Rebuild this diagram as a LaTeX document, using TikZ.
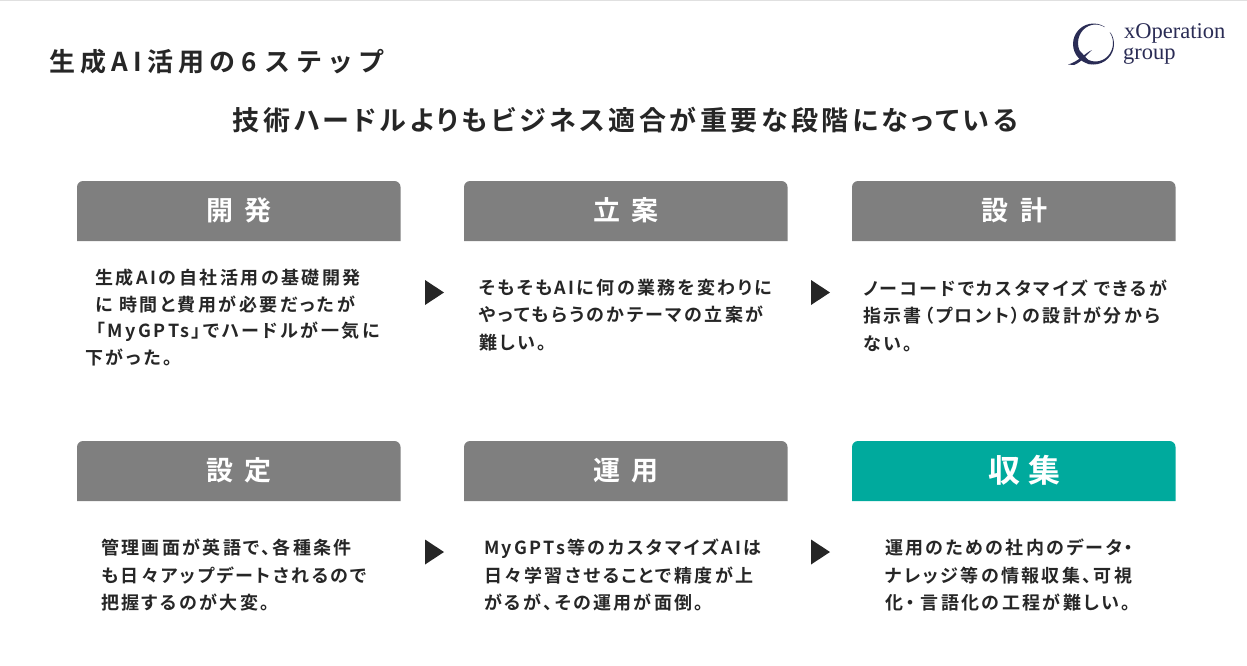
\documentclass[tikz,border=0pt]{standalone}
\usepackage{fontspec}
\usepackage{tikz}
\usetikzlibrary{calc}

\newfontfamily\jpbody[LetterSpace=13,RawFeature=+palt,BoldFont={Noto Sans CJK JP Bold}]{Noto Sans CJK JP}
\newfontfamily\jpwide[LetterSpace=14,RawFeature=+palt,BoldFont={Noto Sans CJK JP Bold}]{Noto Sans CJK JP}
\newfontfamily\jptitle[LetterSpace=13,RawFeature=+palt,BoldFont={Noto Sans CJK JP Bold}]{Noto Sans CJK JP}
\newfontfamily\jpheading[LetterSpace=20,BoldFont={Noto Sans CJK JP Bold}]{Noto Sans CJK JP}
\newfontfamily\logofont{Liberation Serif}

\definecolor{headgray}{HTML}{7F7F7F}
\definecolor{headteal}{HTML}{00AA9D}
\definecolor{inktext}{HTML}{262626}
\definecolor{logonavy}{HTML}{2A2C55}

\tikzset{
    headlabel/.style={text=white, inner sep=0pt,
        font=\jptitle\bfseries\fontsize{27}{30}\selectfont},
    bodytext/.style={anchor=west, align=left, inner sep=0pt, text=inktext,
        font=\jpbody\bfseries\fontsize{18}{27.5}\selectfont},
    titletext/.style={text=inktext, inner sep=0pt,
        font=\jptitle\bfseries\fontsize{27}{30}\selectfont},
    logotext/.style={anchor=base west, inner sep=0pt, text=logonavy,
        font=\logofont\fontsize{22.5}{24}\selectfont},
}

\begin{document}
\begin{tikzpicture}[x=1pt, y=-1pt]
    \useasboundingbox (0,0) rectangle (1247,665);
    \fill[black!12] (0,0) rectangle (1247,1);

    \node[titletext, anchor=west, font=\jpheading\bfseries\fontsize{26}{30}\selectfont] (heading) at (49,62) {生成AI活用の\hspace{6pt}6\hspace{8pt}ステップ};
    \node[titletext] (subheading) at (625.5,120) {技術ハードルよりもビジネス適合が重要な段階になっている};

    % header bars
    \foreach \n/\x/\y/\c/\t in {
        dev/77/181/headgray/{開\hspace{12pt}発},
        plan/464/181/headgray/{立\hspace{12pt}案},
        design/852/181/headgray/{設\hspace{12pt}計},
        setup/77/441/headgray/{設\hspace{12pt}定},
        run/464/441/headgray/{運\hspace{12pt}用},
        collect/852/441/headteal/{}} {
        \fill[\c] (\x,\y+60) [rounded corners=6] -- (\x,\y) -- (\x+323.5,\y) [sharp corners] -- (\x+323.5,\y+60) -- cycle;
        \node[headlabel] (\n) at (\x+162,\y+29.5) {\t};
    }
    \node[headlabel, font=\jptitle\bfseries\fontsize{32}{36}\selectfont] (collectlabel) at (1024,470) {収\hspace{8pt}集};

    % step arrows
    \foreach \x/\y in {425/292.5, 811/292.5, 425/552, 811/552} {
        \fill[inktext] (\x,\y-12.5) -- (\x+19,\y) -- (\x,\y+12.5) -- cycle;
    }

    \node[bodytext, font=\jpwide\bfseries\fontsize{18}{26.5}\selectfont] (devtext) at (85,317.5) {\hspace*{10pt}生成AIの自社活用の基礎開発\\\hspace*{10pt}に 時間と費用が必要だったが\\\hspace*{11pt}「MyGPTs」でハードルが一気に\\下がった。};
    \node[bodytext] (plantext) at (479,315) {そもそもAIに何の業務を変わりに\\やってもらうのかテーマの立案が\\難しい。};
    \node[bodytext] (designtext) at (863,315.5) {ノーコードでカスタマイズ できるが\\指示書（プロント）の設計が分から\\ない。};
    \node[bodytext] (setuptext) at (101,575.5) {管理画面が英語で、各種条件\\も日々アップデートされるので\\把握するのが大変。};
    \node[bodytext] (runtext) at (484,575.5) {MyGPTs等のカスタマイズAIは\\日々学習させることで精度が上\\がるが、その運用が面倒。};
    \node[bodytext] (collecttext) at (885,575.5) {運用のための社内のデータ・\\ナレッジ等の情報収集、可視\\化・ 言語化の工程が難しい。};

    % logo
    \fill[logonavy, even odd rule] (1093.5,44) circle [radius=20.5]
        (1095.5,43) ellipse [x radius=17.5, y radius=18.5];
    \fill[white] (1104,27) -- (1113,25) -- (1113,33) -- (1108,32) -- cycle;
    \fill[logonavy] (1068,64.5) .. controls (1078,62) and (1085,53) .. (1092,50)
        .. controls (1086,55) and (1082,62) .. (1074,65) -- cycle;
    \fill[logonavy] (1079,50) .. controls (1083,54) and (1088,60) .. (1092,64)
        -- (1088,64) .. controls (1085,60) and (1081,55) .. (1079,50) -- cycle;
    \node[logotext] (logoname) at (1124,38) {xOperation};
    \node[logotext] (logogroup) at (1123,59) {group};
\end{tikzpicture}
\end{document}
